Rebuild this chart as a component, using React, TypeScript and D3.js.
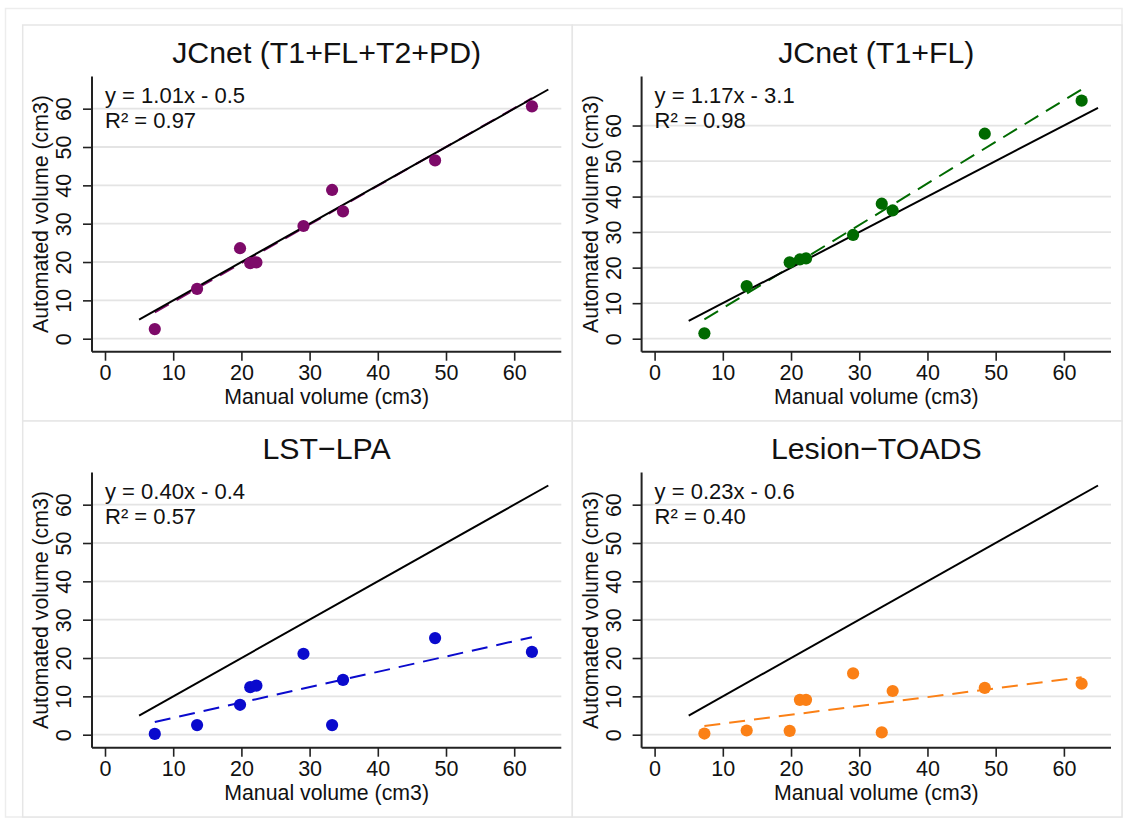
import { useRef, useEffect } from 'react';
import * as d3 from 'd3';

// manual reference volumes (cm3), same subjects in every panel
const manualVolume = [7.3, 13.5, 19.8, 21.3, 22.2, 29.1, 33.3, 34.9, 48.4, 62.6];

// automated volumes per method
const jcnetAll = [2.5, 13.0, 23.6, 19.7, 19.9, 29.4, 38.8, 33.2, 46.5, 60.6];
const jcnetT1Fl = [1.5, 14.8, 21.5, 22.3, 22.6, 29.2, 38.0, 36.1, 57.7, 67.0];
const lstLpa = [0.2, 2.5, 7.8, 12.4, 12.8, 21.1, 2.5, 14.3, 25.2, 21.6];
const lesionToads = [0.3, 1.1, 1.0, 9.1, 9.1, 16.0, 0.6, 11.4, 12.2, 13.3];

const titles = ['JCnet (T1+FL+T2+PD)', 'JCnet (T1+FL)', 'LST\u2212LPA', 'Lesion\u2212TOADS'];
const equations = ['y = 1.01x - 0.5', 'y = 1.17x - 3.1', 'y = 0.40x - 0.4', 'y = 0.23x - 0.6'];
const rSquared = ['R\u00b2 = 0.97', 'R\u00b2 = 0.98', 'R\u00b2 = 0.57', 'R\u00b2 = 0.40'];
// fitted lines as drawn in the figure (bottom intercepts plot above zero)
const slopes = [1.01, 1.17, 0.4, 0.23];
const intercepts = [-0.5, -3.1, 0.4, 0.6];
const colors = ['#7d0a69', '#006a00', '#0a0acd', '#fb8016'];

const tickValues = [0, 10, 20, 30, 40, 50, 60];
const identityLine = [5, 65];
const xLabel = 'Manual volume (cm3)';
const yLabel = 'Automated volume (cm3)';

const FONT = "'Liberation Sans', Arial, Helvetica, sans-serif";

export default function App() {
  const svgRef = useRef<SVGSVGElement>(null);

  useEffect(() => {
    const svg = d3.select(svgRef.current);
    svg.selectAll('*').remove();

    // outer frame
    svg
      .append('rect')
      .attr('x', 5.5)
      .attr('y', 8.5)
      .attr('width', 1116.5)
      .attr('height', 808.5)
      .attr('fill', 'white')
      .attr('stroke', '#ededed')
      .attr('stroke-width', 1.5);

    const colEdges = [22.7, 572.3, 1122];
    const rowEdges = [25, 421, 817];
    const margin = { left: 69.3, right: 11, top: 51.5, bottom: 69.3 };
    const series = [jcnetAll, jcnetT1Fl, lstLpa, lesionToads];

    series.forEach((values, i) => {
      const col = i % 2;
      const row = Math.floor(i / 2);
      const px0 = colEdges[col];
      const px1 = colEdges[col + 1];
      const py0 = rowEdges[row];
      const py1 = rowEdges[row + 1];

      svg
        .append('rect')
        .attr('x', px0)
        .attr('y', py0)
        .attr('width', px1 - px0)
        .attr('height', py1 - py0)
        .attr('fill', 'white')
        .attr('stroke', '#e6e6e6')
        .attr('stroke-width', 1.5);

      const left = px0 + margin.left;
      const right = px1 - margin.right;
      const top = py0 + margin.top;
      const bottom = py1 - margin.bottom;

      const xMin = d3.min(manualVolume);
      const xMax = d3.max(manualVolume);
      const fitEnd = slopes[i] * xMax + intercepts[i];
      const yMax = d3.max([identityLine[1], d3.max(values), fitEnd]);

      const x = d3.scaleLinear().domain([0, identityLine[1]]).range([left + 13, right - 13]);
      const y = d3.scaleLinear().domain([0, yMax]).range([bottom - 13, top + 13]);

      const g = svg.append('g').attr('font-family', FONT);

      // grid
      g.selectAll('.grid')
        .data(tickValues)
        .enter()
        .append('line')
        .attr('x1', left)
        .attr('x2', right)
        .attr('y1', (d) => y(d))
        .attr('y2', (d) => y(d))
        .attr('stroke', '#e4e4e4')
        .attr('stroke-width', 1.8);

      // y axis
      const yAxis = g
        .append('g')
        .attr('transform', `translate(${left},0)`)
        .call(d3.axisLeft(y).tickValues(tickValues).tickSize(9).tickSizeOuter(0));
      yAxis.select('.domain').remove();
      yAxis.selectAll('line').attr('stroke', '#222').attr('stroke-width', 1.6);
      yAxis
        .selectAll('text')
        .attr('transform', 'rotate(-90)')
        .attr('x', 0)
        .attr('y', -20.6)
        .attr('dy', 0)
        .attr('text-anchor', 'middle')
        .attr('font-size', 21.5)
        .attr('font-family', FONT)
        .attr('fill', '#111');

      // x axis
      const xAxis = g
        .append('g')
        .attr('transform', `translate(0,${bottom})`)
        .call(d3.axisBottom(x).tickValues(tickValues).tickSize(9).tickSizeOuter(0));
      xAxis.select('.domain').remove();
      xAxis.selectAll('line').attr('stroke', '#222').attr('stroke-width', 1.6);
      xAxis
        .selectAll('text')
        .attr('y', 28.3)
        .attr('dy', 0)
        .attr('font-size', 21.5)
        .attr('font-family', FONT)
        .attr('fill', '#111');

      // axis lines
      g.append('line')
        .attr('x1', left)
        .attr('x2', left)
        .attr('y1', top)
        .attr('y2', bottom)
        .attr('stroke', '#222')
        .attr('stroke-width', 2);
      g.append('line')
        .attr('x1', left)
        .attr('x2', right)
        .attr('y1', bottom)
        .attr('y2', bottom)
        .attr('stroke', '#222')
        .attr('stroke-width', 2);

      // fitted line
      const line = d3
        .line<number>()
        .x((d) => x(d))
        .y((d) => y(slopes[i] * d + intercepts[i]));
      g.append('path')
        .attr('d', line([xMin, xMax]))
        .attr('fill', 'none')
        .attr('stroke', colors[i])
        .attr('stroke-width', 2)
        .attr('stroke-dasharray', '16,9');

      // identity line
      g.append('line')
        .attr('x1', x(identityLine[0]))
        .attr('y1', y(identityLine[0]))
        .attr('x2', x(identityLine[1]))
        .attr('y2', y(identityLine[1]))
        .attr('stroke', '#000')
        .attr('stroke-width', 2);

      // points
      g.selectAll('.pt')
        .data(values)
        .enter()
        .append('circle')
        .attr('cx', (d, j) => x(manualVolume[j]))
        .attr('cy', (d) => y(d))
        .attr('r', 6.1)
        .attr('fill', colors[i]);

      // title
      g.append('text')
        .attr('x', (left + right) / 2)
        .attr('y', top - 13.4)
        .attr('text-anchor', 'middle')
        .attr('font-size', 30.3)
        .attr('fill', '#111')
        .text(titles[i]);

      // annotations
      g.append('text')
        .attr('x', x(0))
        .attr('y', top + 26)
        .attr('font-size', 22)
        .attr('fill', '#111')
        .text(equations[i]);
      g.append('text')
        .attr('x', x(0))
        .attr('y', top + 51.6)
        .attr('font-size', 22)
        .attr('fill', '#111')
        .text(rSquared[i]);

      // axis titles
      g.append('text')
        .attr('x', (left + right) / 2)
        .attr('y', bottom + 52.3)
        .attr('text-anchor', 'middle')
        .attr('font-size', 21.3)
        .attr('fill', '#111')
        .text(xLabel);
      g.append('text')
        .attr('transform', `translate(${left - 43.6},${(top + bottom) / 2}) rotate(-90)`)
        .attr('text-anchor', 'middle')
        .attr('font-size', 21.3)
        .attr('fill', '#111')
        .text(yLabel);
    });
  }, []);

  return (
    <svg
      ref={svgRef}
      width={1128}
      height={826}
      style={{ position: 'absolute', left: 0, top: 0, background: '#fff' }}
    />
  );
}
